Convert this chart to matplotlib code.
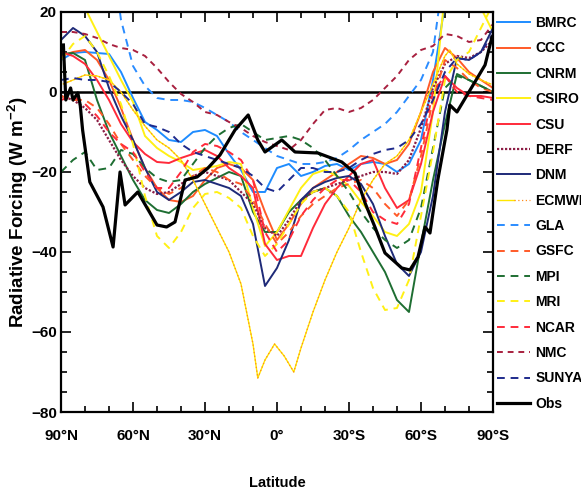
import matplotlib
matplotlib.use('Agg')
import matplotlib.pyplot as plt
from matplotlib.ticker import MultipleLocator
from matplotlib.legend_handler import HandlerTuple

plt.rcParams['font.family'] = ['Liberation Sans', 'DejaVu Sans']
plt.rcParams['font.weight'] = 'bold'
plt.rcParams['mathtext.fontset'] = 'custom'
plt.rcParams['mathtext.bf'] = 'Liberation Sans:bold'
plt.rcParams['mathtext.rm'] = 'Liberation Sans:bold'

# common latitude grid (N positive), most models sampled on it
lat = [90, 85, 80, 75, 70, 65, 60, 55, 50, 45, 40, 35, 30, 25, 20, 15, 10, 5, 0,
       -5, -10, -15, -20, -25, -30, -35, -40, -45, -50, -55, -60, -65, -70, -75, -80, -85, -90]

bmrc = [8, 9.75, 10, 9.75, 9.5, 5, -1.5, -7.5, -9.5, -12, -12.5, -10, -9.5, -11, -15.5, -19.5, -25, -25, -19,
        -18, -21, -20, -18.5, -18, -19.5, -18, -17.5, -18, -20, -18, -12, 3, 22, 26, 25, 24, 22]
ccc = [9, 10, 10.5, 8, 3, -4, -12, -19, -24, -27, -27.5, -26, -22, -19, -18, -19, -22, -30, -37,
       -33, -28, -24, -22, -20, -18, -16, -16.5, -18, -17, -13, -5, 5, 11, 8.5, 5, 3, 1]
cnrm = [9.5, 9.75, 8, -2, -10, -16, -22, -27, -29.5, -30.25, -28, -25, -23, -21.5, -20, -21, -30, -35, -35,
        -30, -27, -25, -24, -26, -31, -35, -40, -45, -52, -55, -38, -22, -8, 4.5, 3, 1.5, 0]
csiro = [30, 26, 21, 15, 9, 3, -2.5, -11, -14, -16, -17.5, -19.5, -19, -18.5, -17.5, -18, -29, -38.5, -35,
         -29.5, -24, -20.5, -19.5, -21, -23.5, -27.5, -31, -35, -36, -33, -25, -5, 25, 30, 30, 21, 15]
csu = [10, 9, 7, 3, -2, -8, -12.5, -15.5, -17.5, -17.75, -16.5, -15.5, -14.5, -16, -19, -21, -24, -38, -42,
       -41, -41, -34, -28, -24, -21, -18, -17, -24, -29, -27, -18, -5, 4, 1, -1, -1, -1.5]
derf = [-1, -2, -4, -7, -12, -17, -21, -24, -25.5, -25, -23, -21, -20, -21, -22, -25, -28, -34, -36,
        -32, -27, -25, -24, -23, -22, -21, -20, -20, -20.5, -17, -9, 1, 7, 9, 8.5, 10, 13]
dnm = [13, 16, 14, 10, 1, -6, -12, -19, -25, -27, -25, -22.5, -22, -23, -24, -26, -33, -48.5, -44,
       -37, -27, -24, -22.5, -21.5, -21, -23, -28, -36, -43, -46, -40, -26, -5, 8.5, 8, 10, 16]
gla = [40, 40, 40, 40, 40, 18, 6.5, 1.5, -1.5, -2, -2, -2.5, -4, -5.75, -7.5, -10, -12, -14, -16,
       -17, -18, -18, -17.5, -16.5, -14.5, -12, -10, -8, -5, -1, 3, 10, 32, 40, 40, 40, 40]
gsfc = [-1, -2, -2, -4, -8, -13, -17, -21, -24, -25.5, -24, -21, -19, -20, -22, -23, -27, -33, -38,
        -35, -31, -28, -26, -24, -23, -22, -24, -28, -31, -27, -16, -2, 8, 6, 3, 1, 0]
mpi = [-20, -17, -15, -19.5, -19, -14.5, -15.5, -19, -21.5, -22.5, -22, -18, -14, -11, -9, -8, -10, -12, -11.5,
       -11, -12, -14, -17, -21, -25, -30, -34, -37, -39, -37, -29, -14, 1, 4, 3, 1.5, 0]
mri = [8, 12, 14, 10, 4, -3, -13, -26, -36, -39, -35, -29, -25.5, -25, -26.5, -29, -36, -41, -38,
       -33, -28, -25, -24, -26, -30, -40, -49, -54.5, -54, -47, -31, -15, 3, 8, 10, 16, 22]
ncar = [-2, -1, -3, -6, -10, -13, -15, -20, -24, -24, -20, -15, -13, -13.5, -15, -17, -22, -35, -40,
        -37, -31, -27, -24, -22, -22, -25, -30, -32, -33, -28, -14, 0, 4, 0, -1, -1.5, -2]
nmc = [15, 15, 14.5, 13.5, 12, 11, 10.5, 9, 6, 2.5, -0.5, -2.5, -5, -5.75, -7.5, -9, -11, -12.5, -13.5,
       -14.5, -12, -8, -4.5, -4, -5, -4, -2, 1, 4, 8, 10.5, 11.5, 14.5, 14, 12.5, 13, 17]
sunya = [3, 3.5, 3, 3, 2.5, 0, -3, -8, -8.75, -10, -13, -15, -16, -17, -18, -19, -21, -24, -25,
         -22, -19, -19, -20, -20, -19, -17, -15.5, -14.5, -14, -12, -8, -2, 5, 8.5, 8, 10, 14.5]

# ECMWF and observations have sharper features, own latitudes
ecmwf_lat = [89, 85, 80, 75, 70, 65, 60, 55, 50, 45, 40, 35, 30, 25, 20, 15, 10, 8, 5, 1,
             -3, -7, -10, -15, -20, -25, -30, -35, -40, -45, -50, -55, -60, -65, -70, -72, -75, -80, -85, -89]
ecmwf = [2, 3, 4.25, 4, 3, 0, -4.5, -8.5, -12, -14, -17, -22, -28, -34, -40, -48, -63, -71.5, -67, -63,
         -66, -70, -64, -55, -47, -40, -34, -27, -22, -18, -16, -12, -5, 2, 9, 10.5, 7, 4.5, 3, 2]
obs_lat = [89, 88, 86, 85, 83, 82, 81, 78, 72.5, 68.3, 65.4, 63.3, 58, 50, 46, 42.5, 38.3, 33.3, 28.75, 23.75,
           17.5, 12, 8, 5, -2, -7.5, -17, -27, -32.5, -36.7, -40.8, -45, -52, -55.4, -58.75, -61.7, -63.75, -67,
           -70.8, -72, -75, -86.7, -89.6]
obs = [11.75, -2, 1, -2, -0.25, -3.25, -9.5, -22.5, -28.75, -38.75, -20, -28.25, -25, -33.25, -33.75, -32.5, -22,
       -21.25, -19, -15.75, -9.5, -5.75, -12, -15, -12, -15, -15.25, -17.5, -20.25, -27.75, -33.75, -40.25, -44,
       -44.5, -41.25, -33.75, -35.25, -22, -9.5, -3.25, -5, 6.75, 13.75]

fig = plt.figure(figsize=(5.81, 4.93), dpi=100)
ax = fig.add_axes([0.105, 0.1643, 0.7435, 0.8114])

ax.axhline(0, color='black', lw=1.8, zorder=1)

dash = (0, (4, 3))
series = [
    ('BMRC', lat, bmrc, '#1e8cff', '-', 1.4),
    ('CCC', lat, ccc, '#ff5a28', '-', 1.4),
    ('CNRM', lat, cnrm, '#1e6e32', '-', 1.4),
    ('CSIRO', lat, csiro, '#fff014', '-', 1.4),
    ('CSU', lat, csu, '#ff2a3a', '-', 1.4),
    ('DERF', lat, derf, '#8c1e46', (0, (1, 0.8)), 1.6),
    ('DNM', lat, dnm, '#1e2a78', '-', 1.4),
    ('ECMWF', ecmwf_lat, ecmwf, '#ffe600', '-', 1.0),
    ('GLA', lat, gla, '#2a8cff', dash, 1.4),
    ('GSFC', lat, gsfc, '#ff5a28', dash, 1.4),
    ('MPI', lat, mpi, '#1e6e32', dash, 1.4),
    ('MRI', lat, mri, '#fff014', dash, 1.4),
    ('NCAR', lat, ncar, '#ff2a3a', dash, 1.4),
    ('NMC', lat, nmc, '#a8203f', (0, (3, 2.5)), 1.4),
    ('SUNYA', lat, sunya, '#1e2a8c', dash, 1.4),
    ('Obs', obs_lat, obs, 'black', '-', 2.3),
]

handles, labels = [], []
for name, x, y, c, ls, lw in series:
    ln, = ax.plot(x, y, color=c, ls=ls, lw=lw, zorder=3 if name == 'Obs' else 2)
    h = ln
    if name == 'ECMWF':
        # yellow line with orange dots on it
        dots, = ax.plot(x, y, color='#ff8c1a', ls=(0, (1, 2)), lw=0.9, zorder=2)
        h = (ln, dots)
    handles.append(h)
    labels.append(name)

ax.set_xlim(90, -90)
ax.set_ylim(-80, 20)
ax.set_xticks([90, 60, 30, 0, -30, -60, -90])
ax.set_xticklabels(['90°N', '60°N', '30°N', '0°', '30°S', '60°S', '90°S'])
ax.set_yticks([20, 0, -20, -40, -60, -80])
ax.xaxis.set_minor_locator(MultipleLocator(10))
ax.yaxis.set_minor_locator(MultipleLocator(5))
ax.tick_params(which='both', direction='in', top=True, right=True, width=1.2, labelsize=11)
ax.tick_params(which='major', length=7)
ax.tick_params(which='minor', length=4)
ax.tick_params(axis='x', pad=12)
ax.tick_params(axis='y', pad=3)
for s in ax.spines.values():
    s.set_linewidth(1.6)

ax.set_xlabel('Latitude', fontsize=10.5, fontweight='bold', labelpad=24)
ax.set_ylabel('Radiative Forcing (W m$^{\\mathbf{-2}}$)', fontsize=13.5, fontweight='bold', labelpad=0.5)

ax.legend(handles, labels, loc='upper left', bbox_to_anchor=(497 / 581, 1 - 16 / 493),
          bbox_transform=fig.transFigure, handler_map={tuple: HandlerTuple(ndivide=None)},
          frameon=False, fontsize=10, handlelength=2.4, handletextpad=0.35, labelspacing=0.82,
          borderpad=0, borderaxespad=0)

fig.savefig('out.png', dpi=100)
